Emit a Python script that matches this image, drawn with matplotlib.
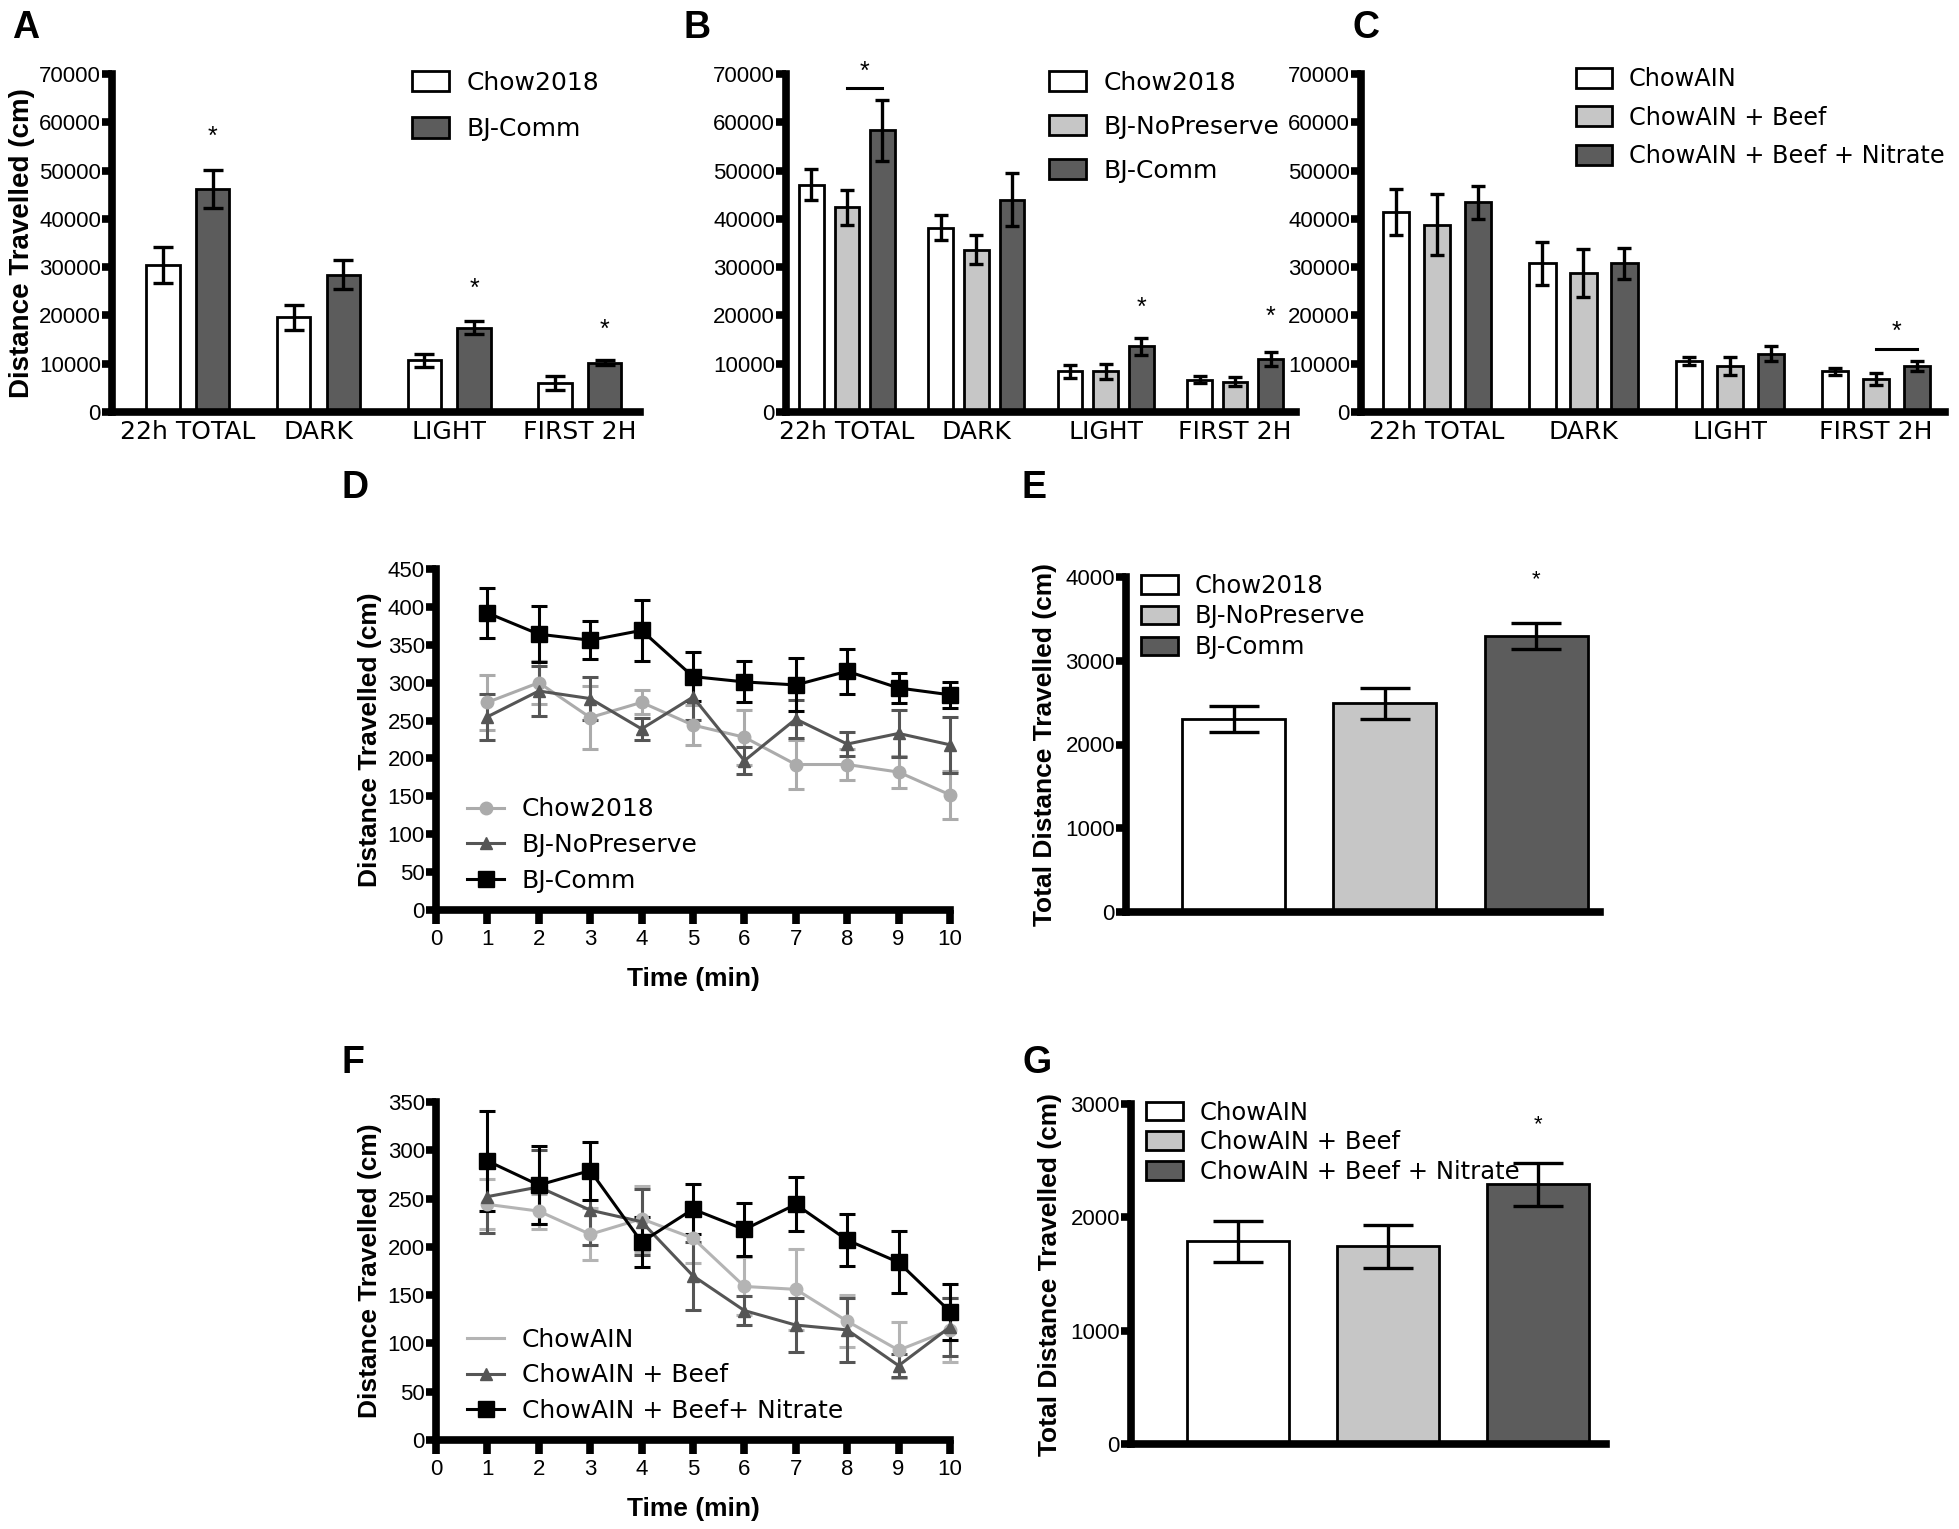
import numpy as np
import matplotlib
matplotlib.use('Agg')
import matplotlib.pyplot as plt
from matplotlib.patches import Patch
from matplotlib.lines import Line2D

plt.rcParams['font.family'] = ['Liberation Sans', 'DejaVu Sans']

# ---- data ----
periods = ['22h TOTAL', 'DARK', 'LIGHT', 'FIRST 2H']

# A
a_chow = [30500, 19600, 10700, 6000]
a_chow_err = [3700, 2600, 1300, 1400]
a_comm = [46200, 28400, 17500, 10200]
a_comm_err = [4000, 3000, 1400, 500]

# B
b_chow = [47100, 38200, 8400, 6700]
b_chow_err = [3200, 2500, 1400, 700]
b_nopres = [42400, 33600, 8400, 6300]
b_nopres_err = [3600, 3000, 1600, 900]
b_comm = [58300, 44000, 13600, 11000]
b_comm_err = [6300, 5400, 1700, 1500]

# C
c_ain = [41400, 30800, 10500, 8400]
c_ain_err = [4700, 4500, 800, 700]
c_beef = [38800, 28800, 9500, 6800]
c_beef_err = [6300, 5000, 1900, 1300]
c_nitrate = [43400, 30800, 12100, 9500]
c_nitrate_err = [3400, 3200, 1500, 1100]

# D
minutes = [1, 2, 3, 4, 5, 6, 7, 8, 9, 10]
d_chow = [274, 300, 254, 274, 244, 228, 192, 192, 182, 152]
d_chow_err = [36, 28, 42, 16, 26, 36, 32, 20, 21, 32]
d_nopres = [255, 289, 279, 239, 281, 197, 252, 219, 233, 218]
d_nopres_err = [30, 33, 28, 15, 30, 18, 25, 16, 31, 37]
d_comm = [392, 364, 356, 369, 308, 301, 297, 315, 293, 284]
d_comm_err = [33, 37, 25, 40, 32, 27, 35, 30, 20, 17]

# E
e_groups = ['Chow2018', 'BJ-NoPreserve', 'BJ-Comm']
e_vals = [2300, 2490, 3300]
e_err = [155, 180, 155]

# F
f_ain = [244, 237, 213, 229, 209, 159, 156, 123, 93, 114]
f_ain_err = [26, 18, 27, 34, 26, 30, 42, 27, 29, 33]
f_beef = [252, 262, 238, 226, 170, 134, 119, 114, 77, 117]
f_beef_err = [38, 38, 36, 34, 35, 15, 28, 33, 12, 30]
f_nitrate = [289, 264, 279, 205, 239, 218, 244, 207, 184, 133]
f_nitrate_err = [52, 40, 30, 26, 26, 27, 28, 27, 32, 29]

# G
g_groups = ['ChowAIN', 'ChowAIN + Beef', 'ChowAIN + Beef + Nitrate']
g_vals = [1790, 1745, 2290]
g_err = [180, 190, 190]

WHITE, LGRAY, DGRAY = '#ffffff', '#c6c6c6', '#5c5c5c'
SPINE = 5.5
W, H = 1959, 1529
fig = plt.figure(figsize=(W / 100, H / 100), dpi=100)


def add_ax(l, r, t, b):
    return fig.add_axes([l / W, 1 - b / H, (r - l) / W, (b - t) / H])


def style(ax, tsize=16):
    for s in ['top', 'right']:
        ax.spines[s].set_visible(False)
    for s in ['left', 'bottom']:
        ax.spines[s].set_linewidth(SPINE)
    ax.tick_params(axis='y', width=SPINE, length=7, labelsize=tsize, pad=1)
    ax.tick_params(axis='x', width=SPINE, length=10, labelsize=tsize, pad=4)


def letter(x, y, s):
    fig.text(x / W, 1 - y / H, s, fontsize=27, fontweight='bold', va='top', ha='left')


def grouped(ax, series, errs, colors, offs, width, cap):
    x = np.arange(len(periods))
    for vals, err, col, off in zip(series, errs, colors, offs):
        ax.bar(x + off, vals, width, color=col, edgecolor='black', linewidth=2,
               yerr=err, error_kw=dict(ecolor='black', elinewidth=2.4, capsize=cap, capthick=2.4),
               zorder=2)
    ax.set_xticks(x)
    ax.set_xticklabels(periods, fontfamily='DejaVu Sans', fontsize=18)
    ax.tick_params(axis='x', length=0, pad=6)
    ax.set_ylim(0, 70000)
    ax.set_yticks(range(0, 70001, 10000))


def bar_legend(ax, labels, colors, anchor, spacing, fs=18, hh=0.9):
    hs = [Patch(facecolor=c, edgecolor='black', linewidth=2, label=l) for l, c in zip(labels, colors)]
    ax.legend(handles=hs, loc='upper left', bbox_to_anchor=anchor, frameon=False,
              prop={'family': 'DejaVu Sans', 'size': fs},
              handlelength=1.5, handleheight=hh, handletextpad=0.7, labelspacing=spacing,
              borderaxespad=0, borderpad=0)


# ---- A ----
ax = add_ax(112, 640, 74, 412)
style(ax)
grouped(ax, [a_chow, a_comm], [a_chow_err, a_comm_err], [WHITE, DGRAY], [-0.19, 0.19], 0.255, 7)
ax.set_xlim(-0.58, 3.46)
ax.set_ylabel('Distance Travelled (cm)', fontsize=20, fontweight='bold', labelpad=3)
bar_legend(ax, ['Chow2018', 'BJ-Comm'], [WHITE, DGRAY], (0.568, 1.01), 0.9)
for i, yy in [(0, 57000), (2, 25500), (3, 17000)]:
    ax.text(i + 0.19, yy, '*', ha='center', va='center', fontsize=18)
letter(12, 10, 'A')

# ---- B ----
ax = add_ax(786, 1296, 74, 412)
style(ax)
grouped(ax, [b_chow, b_nopres, b_comm], [b_chow_err, b_nopres_err, b_comm_err],
        [WHITE, LGRAY, DGRAY], [-0.275, 0, 0.275], 0.19, 5)
ax.set_xlim(-0.47, 3.47)
bar_legend(ax, ['Chow2018', 'BJ-NoPreserve', 'BJ-Comm'], [WHITE, LGRAY, DGRAY], (0.515, 1.01), 0.8)
ax.plot([0, 0.275], [67000, 67000], color='black', lw=2.2, clip_on=False)
ax.text(0.14, 70500, '*', ha='center', va='center', fontsize=18)
for i, yy in [(2, 21500), (3, 19800)]:
    ax.text(i + 0.275, yy, '*', ha='center', va='center', fontsize=18)
letter(683, 10, 'B')

# ---- C ----
ax = add_ax(1361, 1945, 74, 412)
style(ax)
grouped(ax, [c_ain, c_beef, c_nitrate], [c_ain_err, c_beef_err, c_nitrate_err],
        [WHITE, LGRAY, DGRAY], [-0.28, 0, 0.28], 0.18, 5)
ax.set_xlim(-0.52, 3.47)
bar_legend(ax, ['ChowAIN', 'ChowAIN + Beef', 'ChowAIN + Beef + Nitrate'], [WHITE, LGRAY, DGRAY],
           (0.368, 1.02), 0.6, fs=17.3)
ax.plot([3, 3.28], [13000, 13000], color='black', lw=2.2)
ax.text(3.14, 16700, '*', ha='center', va='center', fontsize=18)
letter(1352, 10, 'C')


# ---- line panels ----
def line_panel(ax, series, ymax):
    hs = []
    for vals, err, col, mk, ms, lab, show in series:
        ax.errorbar(minutes, vals, yerr=err, color=col, marker=mk, ms=ms, lw=2.2, elinewidth=2.2,
                    capsize=6, capthick=2.2, clip_on=False, zorder=3)
        hs.append(Line2D([], [], color=col, lw=2.2, marker=mk if show else None, ms=ms))
    ax.set_xlim(0, 10)
    ax.set_xticks(range(0, 11))
    ax.set_ylim(0, ymax)
    ax.set_yticks(range(0, ymax + 1, 50))
    ax.set_xlabel('Time (min)', fontsize=19, fontweight='bold', labelpad=12)
    ax.set_ylabel('Distance Travelled (cm)', fontsize=19, fontweight='bold', labelpad=4)
    ax.legend(hs, [s[5] for s in series], loc='lower left', bbox_to_anchor=(0.06, 0.05),
              frameon=False, prop={'family': 'DejaVu Sans', 'size': 18}, handlelength=1.5,
              handletextpad=0.7, labelspacing=0.47, borderaxespad=0, borderpad=0)


ax = add_ax(436, 950, 569, 910)
style(ax)
line_panel(ax, [(d_chow, d_chow_err, '#ababab', 'o', 9, 'Chow2018', True),
                (d_nopres, d_nopres_err, '#555555', '^', 9, 'BJ-NoPreserve', True),
                (d_comm, d_comm_err, 'black', 's', 12, 'BJ-Comm', True)], 450)
letter(342, 470, 'D')

ax = add_ax(436, 950, 1102, 1440)
style(ax)
line_panel(ax, [(f_ain, f_ain_err, '#b4b4b4', 'o', 9, 'ChowAIN', False),
                (f_beef, f_beef_err, '#555555', '^', 9, 'ChowAIN + Beef', True),
                (f_nitrate, f_nitrate_err, 'black', 's', 12, 'ChowAIN + Beef+ Nitrate', True)], 350)
letter(342, 1045, 'F')


# ---- single bar panels ----
def total_panel(ax, vals, err, labels, ymax, staty, xl, spacing):
    ax.bar(range(3), vals, 0.68, color=[WHITE, LGRAY, DGRAY], edgecolor='black', linewidth=2,
           yerr=err, error_kw=dict(ecolor='black', elinewidth=2.4, capsize=18, capthick=2.4), zorder=2)
    ax.set_xlim(*xl)
    ax.set_xticks([])
    ax.set_ylim(0, ymax)
    ax.set_yticks(range(0, ymax + 1, 1000))
    ax.set_ylabel('Total Distance Travelled (cm)', fontsize=19, fontweight='bold', labelpad=6)
    ax.text(2, staty, '*', ha='center', va='center', fontsize=16)
    bar_legend(ax, labels, [WHITE, LGRAY, DGRAY], (0.032, 1.01), spacing, fs=17.5, hh=0.8)


ax = add_ax(1126, 1600, 577, 912)
style(ax)
total_panel(ax, e_vals, e_err, e_groups, 4000, 3970, (-0.71, 2.42), 0.28)
letter(1022, 470, 'E')

ax = add_ax(1131, 1606, 1104, 1444)
style(ax)
total_panel(ax, g_vals, g_err, g_groups, 3000, 2820, (-0.71, 2.45), 0.23)
letter(1022, 1045, 'G')

fig.savefig('out.png', dpi=100)
